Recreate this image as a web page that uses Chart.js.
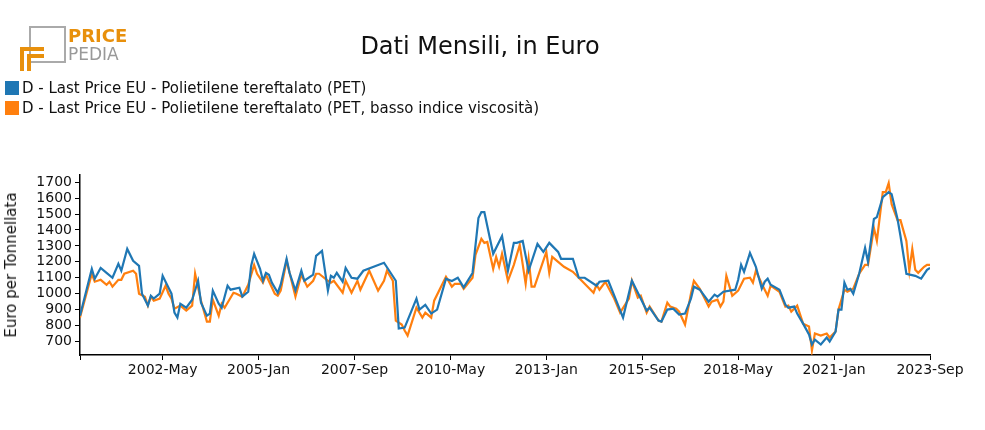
<!DOCTYPE html>
<html>
<head>
<meta charset="utf-8">
<script src="https://cdn.jsdelivr.net/npm/chart.js@4"></script>
<style>
  body { margin: 0; width: 985px; height: 430px; position: relative; font-family: "DejaVu Sans", sans-serif; background: #fff; overflow: hidden; }
  #wrap { position: absolute; left: 0; top: 0; width: 985px; height: 430px; }
  .title { position: absolute; top: 32px; left: 0; width: 960px; text-align: center; font-size: 24px; color: #111; }
  .legend { position: absolute; left: 5px; font-size: 15px; color: #111; }
  .legend span { display: inline-block; width: 14px; height: 14px; vertical-align: -2px; margin-right: 3px; }
  .ytitle { position: absolute; left: 11px; top: 265px; transform: translate(-50%, -50%) rotate(-90deg); font-size: 15px; white-space: nowrap; color: #111; }
  .logo { position: absolute; left: 20px; top: 25px; width: 110px; height: 50px; }
</style>
</head>
<body>
<div id="wrap"><canvas id="c" width="985" height="430"></canvas></div>
<div class="logo">
  <div style="position:absolute;left:9px;top:1px;width:33px;height:33px;border:2px solid #aaa;"></div>
  <div style="position:absolute;left:0;top:22px;width:20px;height:20px;border-top:4px solid #e8900c;border-left:4px solid #e8900c;"></div>
  <div style="position:absolute;left:7px;top:29px;width:13px;height:13px;border-top:4px solid #e8900c;border-left:4px solid #e8900c;"></div>
  <div style="position:absolute;left:48px;top:0;font:bold 18px 'DejaVu Sans';color:#e8900c;">PRICE</div>
  <div style="position:absolute;left:48px;top:19px;font:17px 'DejaVu Sans';color:#999;">PEDIA</div>
</div>
<div class="title">Dati Mensili, in Euro</div>
<div class="legend" style="top:79px"><span style="background:#1f77b4"></span>D - Last Price EU - Polietilene tereftalato (PET)</div>
<div class="legend" style="top:99px"><span style="background:#ff7f0e"></span>D - Last Price EU - Polietilene tereftalato (PET, basso indice viscosità)</div>
<div class="ytitle">Euro per Tonnellata</div>
<script>
// x in months from the left edge of the axis; labelled ticks step back from 2023-Sep
const tickLabels = ['2023-Sep', '2021-Jan', '2018-May', '2015-Sep', '2013-Jan', '2010-May', '2007-Sep', '2005-Jan', '2002-May'];
const tickStep = 32.5;
const xEnd = 288;

const petMonths = [0,4,5,7,9,11,13,14,16,18,20,21,23,24,25,27,28,30,31,32,33,34,36,38,40,41,43,44,45,47,48,50,51,54,55,57,58,59,61,62,63,64,65,67,68,70,71,73,75,76,79,80,82,84,85,86,87,89,90,92,94,96,
  103,107,108,110,114,115,117,119,121,124,126,128,130,133,135,136,137,140,143,145,147,148,150,152,155,157,159,162,163,167,169,171,175,176,179,184,187,192,193,
  196,197,199,201,203,205,207,208,210,213,215,216,218,222,223,224,225,227,229,231,232,233,234,237,239,240,242,243,245,247,248,249,251,253,254,256,257,258,259,260,261,262,264,266,267,269,270,272,274,275,277,278,280,283,285,287,288];
const petValues = [862,1156,1094,1162,1131,1100,1187,1144,1281,1206,1175,1000,925,987,969,1000,1112,1037,1000,881,850,937,912,962,1081,944,862,875,1019,937,912,1050,1025,1037,981,1012,1175,1250,1156,1081,1131,1119,1069,1006,1056,1219,1131,1019,1144,1081,1119,1237,1269,1019,1112,1100,1131,1075,1162,1100,1094,1144,
  1194,1081,781,787,969,900,930,875,900,1094,1080,1100,1040,1130,1475,1512,1512,1250,1362,1144,1319,1319,1331,1144,1312,1262,1319,1262,1219,1219,1100,1100,1050,1075,1081,850,1081,894,912,
  831,825,900,906,869,875,969,1044,1025,950,994,981,1012,1025,1087,1181,1137,1256,1169,1031,1075,1094,1056,1025,931,912,919,875,812,744,681,712,681,725,700,762,900,900,1069,1025,1031,1000,1125,1287,1200,1469,1481,1606,1637,1625,1469,1362,1125,1112,1094,1150,1162];

const lowMonths = [0,4,5,7,9,10,11,13,14,15,18,19,20,22,23,24,25,27,29,30,31,32,34,36,38,39,41,43,44,45,47,48,49,52,53,55,57,59,60,62,63,66,67,68,70,73,75,77,79,80,81,84,85,86,89,90,92,94,95,
  98,101,103,104,106,107,109,110,111,114,116,117,119,120,124,126,127,129,130,133,134,136,137,138,140,141,142,143,145,147,149,151,152,153,154,158,159,160,162,164,167,170,174,175,176,178,181,183,186,187,189,190,192,193,
  196,197,199,200,202,203,205,207,208,210,213,214,216,217,218,219,221,223,225,227,228,229,231,233,234,237,239,240,241,243,245,247,248,249,251,253,254,256,257,259,260,262,264,266,267,269,270,272,273,274,275,277,278,280,281,282,283,284,286,287,288];
const lowValues = [850,1125,1075,1087,1056,1075,1044,1087,1087,1125,1144,1125,1000,981,925,981,956,969,1050,1000,969,906,925,894,925,1125,956,825,825,962,862,937,912,1006,1000,981,1056,1181,1125,1069,1119,1000,987,1019,1206,981,1119,1044,1081,1125,1125,1081,1069,1081,1006,1081,1006,1081,1025,
  1144,1019,1081,1144,1081,831,806,769,737,912,850,881,850,956,1106,1044,1062,1062,1031,1100,1244,1344,1319,1325,1156,1231,1169,1250,1081,1181,1306,1062,1219,1044,1044,1262,1131,1231,1200,1169,1137,1081,1006,1056,1025,1075,969,881,969,1081,975,987,881,919,
  831,825,944,919,906,887,806,1000,1081,1031,919,950,962,919,950,1112,987,1019,1094,1100,1069,1144,1062,987,1050,1012,919,925,887,925,812,794,644,750,737,750,725,762,900,1025,1012,1031,1125,1181,1181,1412,1331,1637,1637,1694,1562,1462,1462,1331,1144,1281,1150,1131,1169,1181,1181];

const toPoints = (xs, ys) => xs.map((m, i) => ({ x: m, y: ys[i] }));

const font = { family: 'DejaVu Sans', size: 14 };
const tickGrid = { display: true, drawOnChartArea: false, drawTicks: true, tickLength: 5, tickColor: '#000' };

new Chart(document.getElementById('c'), {
  type: 'line',
  data: {
    datasets: [
      { data: toPoints(petMonths, petValues), borderColor: '#1f77b4', borderWidth: 2.2, pointRadius: 0, tension: 0 },
      { data: toPoints(lowMonths, lowValues), borderColor: '#ff7f0e', borderWidth: 2.2, pointRadius: 0, tension: 0 }
    ]
  },
  options: {
    animation: false,
    responsive: false,
    layout: { padding: { top: 175, right: 55, left: 0, bottom: 0 } },
    plugins: { legend: { display: false }, tooltip: { enabled: false } },
    scales: {
      x: {
        type: 'linear', min: 0, max: xEnd,
        grid: tickGrid,
        border: { color: '#000', width: 1.5 },
        afterBuildTicks: (s) => {
          s.ticks = [{ value: 0, label: '' }];
          for (let k = tickLabels.length - 1; k >= 0; k--) s.ticks.push({ value: xEnd - k * tickStep });
        },
        ticks: { autoSkip: false, maxRotation: 0, color: '#111', font, padding: 2,
          callback: (v) => { const k = Math.round((xEnd - v) / tickStep); return v === 0 ? '' : tickLabels[k]; } },
        afterFit: (s) => { s.height = 75; }
      },
      y: {
        min: 615, max: 1745,
        grid: tickGrid,
        border: { color: '#000', width: 1.5 },
        afterBuildTicks: (s) => { s.ticks = []; for (let v = 700; v <= 1700; v += 100) s.ticks.push({ value: v }); },
        ticks: { autoSkip: false, color: '#111', font, padding: 3, callback: (v) => String(v) },
        afterFit: (s) => { s.width = 80; }
      }
    }
  }
});
</script>
</body>
</html>
